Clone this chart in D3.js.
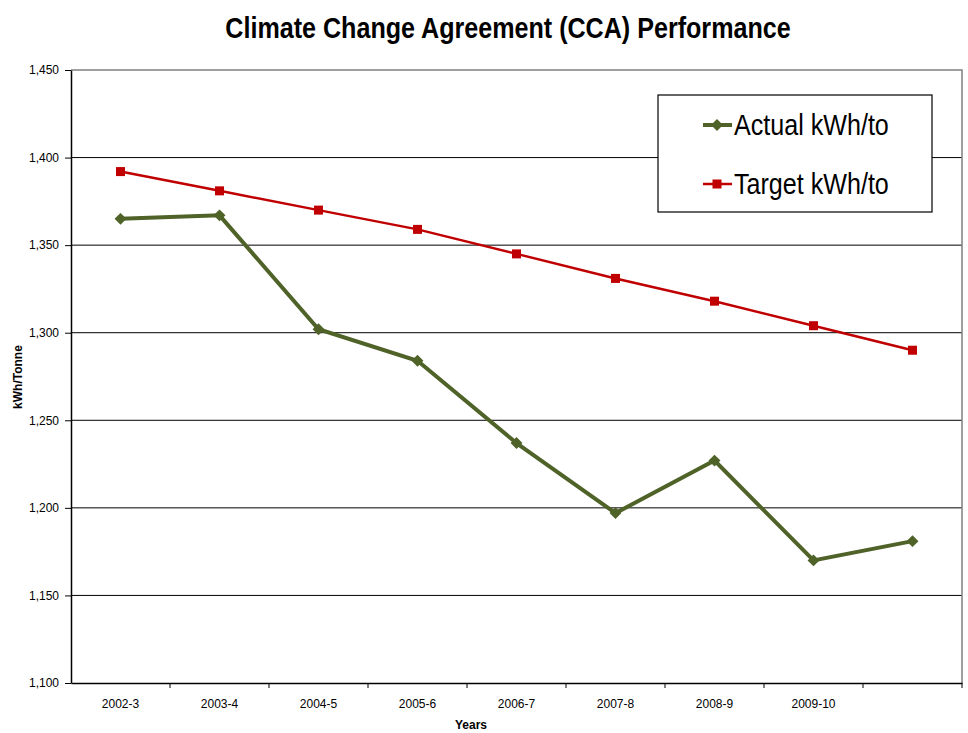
<!DOCTYPE html>
<html lang="en">
<head>
<meta charset="utf-8">
<script src="https://d3js.org/d3.v7.min.js"></script>
<style>
  body { margin: 0; background: #fff; }
  text { font-family: "Liberation Sans Narrow", "Arial Narrow", "Liberation Sans", Arial, sans-serif; }
</style>
</head>
<body>
<script>
// categories and values
var years = ["2002-3", "2003-4", "2004-5", "2005-6", "2006-7", "2007-8", "2008-9", "2009-10", ""];
var actual = [1365, 1367, 1302, 1284, 1237, 1197, 1227, 1170, 1181];
var target = [1392, 1381, 1370, 1359, 1345, 1331, 1318, 1304, 1290];
var yTicks = [1100, 1150, 1200, 1250, 1300, 1350, 1400, 1450];

var width = 968, height = 733;
var plot = {left: 71, right: 962, top: 70, bottom: 683};
var narrow = 0.866; // squeeze to look like Arial Narrow

var svg = d3.select("body").append("svg")
            .attr("width", width)
            .attr("height", height);

var x = d3.scaleBand().domain(d3.range(years.length))
          .range([plot.left, plot.right]);
var y = d3.scaleLinear().domain([1100, 1450]).range([plot.bottom, plot.top]);

// title
svg.append("text")
   .attr("transform", "translate(508,38) scale(" + narrow + ",1)")
   .attr("text-anchor", "middle")
   .attr("font-size", 29).attr("font-weight", "bold")
   .text("Climate Change Agreement (CCA) Performance");

// grid lines
svg.append("g").selectAll("line")
   .data(yTicks.slice(1, -1))
   .enter().append("line")
   .attr("x1", plot.left).attr("x2", plot.right)
   .attr("y1", d => y(d)).attr("y2", d => y(d))
   .attr("stroke", "#000").attr("stroke-width", 1);

// top and right border of plot area
svg.append("path")
   .attr("d", "M" + plot.left + "," + y(1450) + "H" + plot.right + "V" + plot.bottom)
   .attr("fill", "none").attr("stroke", "#808080").attr("stroke-width", 1.5);

// y axis
var yAxis = svg.append("g")
   .attr("transform", "translate(" + plot.left + ",0)")
   .call(d3.axisLeft(y).tickValues(yTicks).tickSize(6).tickSizeOuter(0)
           .tickFormat(d3.format(",")));
yAxis.select(".domain").attr("stroke", "#000").attr("stroke-width", 1.5);
yAxis.selectAll("text").attr("font-size", 12).attr("fill", "#000").attr("dx", -3);

// x axis, ticks at the band edges
var xAxis = svg.append("g")
   .attr("transform", "translate(0," + plot.bottom + ")")
   .call(d3.axisBottom(x).tickSize(0).tickFormat(i => years[i]));
xAxis.select(".domain").attr("stroke", "#000").attr("stroke-width", 1.5);
xAxis.selectAll("text").attr("font-size", 12).attr("fill", "#000").attr("dy", 22);
xAxis.selectAll(".edge").data(d3.range(1, years.length + 1))
   .enter().append("line").attr("class", "edge")
   .attr("x1", i => x(i - 1) + x.bandwidth()).attr("x2", i => x(i - 1) + x.bandwidth())
   .attr("y1", 0).attr("y2", 5)
   .attr("stroke", "#000");

// axis titles
svg.append("text")
   .attr("transform", "translate(22,377) rotate(-90)")
   .attr("text-anchor", "middle")
   .attr("font-size", 12).attr("font-weight", "bold")
   .text("kWh/Tonne");
svg.append("text")
   .attr("x", 471).attr("y", 729)
   .attr("text-anchor", "middle")
   .attr("font-size", 12).attr("font-weight", "bold")
   .text("Years");

var cx = i => x(i) + x.bandwidth() / 2;
var line = d3.line().x((d, i) => cx(i)).y(d => y(d));

// target series
svg.append("path").datum(target)
   .attr("d", line).attr("fill", "none")
   .attr("stroke", "#c00000").attr("stroke-width", 2.5);
svg.append("g").selectAll("rect").data(target).enter().append("rect")
   .attr("x", (d, i) => cx(i) - 4.5).attr("y", d => y(d) - 4.5)
   .attr("width", 9).attr("height", 9)
   .attr("fill", "#c00000");

// actual series
svg.append("path").datum(actual)
   .attr("d", line).attr("fill", "none")
   .attr("stroke", "#4f6228").attr("stroke-width", 4);
svg.append("g").selectAll("path.pt").data(actual).enter().append("path")
   .attr("class", "pt")
   .attr("d", d3.symbol().type(d3.symbolDiamond2).size(90))
   .attr("transform", (d, i) => "translate(" + cx(i) + "," + y(d) + ")")
   .attr("fill", "#4f6228");

// legend
var legend = svg.append("g");
legend.append("rect")
   .attr("x", 658).attr("y", 95).attr("width", 274).attr("height", 117)
   .attr("fill", "#fff").attr("stroke", "#000").attr("stroke-width", 1.2);
var items = [
  {name: "Actual kWh/to", colour: "#4f6228", sym: "diamond", yy: 125},
  {name: "Target kWh/to", colour: "#c00000", sym: "square", yy: 184}
];
items.forEach(function(it) {
  legend.append("line")
     .attr("x1", 703).attr("x2", 732).attr("y1", it.yy).attr("y2", it.yy)
     .attr("stroke", it.colour).attr("stroke-width", it.sym == "diamond" ? 4 : 2.5);
  if (it.sym == "diamond") {
    legend.append("path")
       .attr("d", d3.symbol().type(d3.symbolDiamond2).size(90))
       .attr("transform", "translate(717," + it.yy + ")")
       .attr("fill", it.colour);
  } else {
    legend.append("rect")
       .attr("x", 712.5).attr("y", it.yy - 4.5).attr("width", 9).attr("height", 9)
       .attr("fill", it.colour);
  }
  legend.append("text")
     .attr("transform", "translate(734," + (it.yy + 10) + ") scale(" + narrow + ",1)")
     .attr("font-size", 29)
     .text(it.name);
});
</script>
</body>
</html>
